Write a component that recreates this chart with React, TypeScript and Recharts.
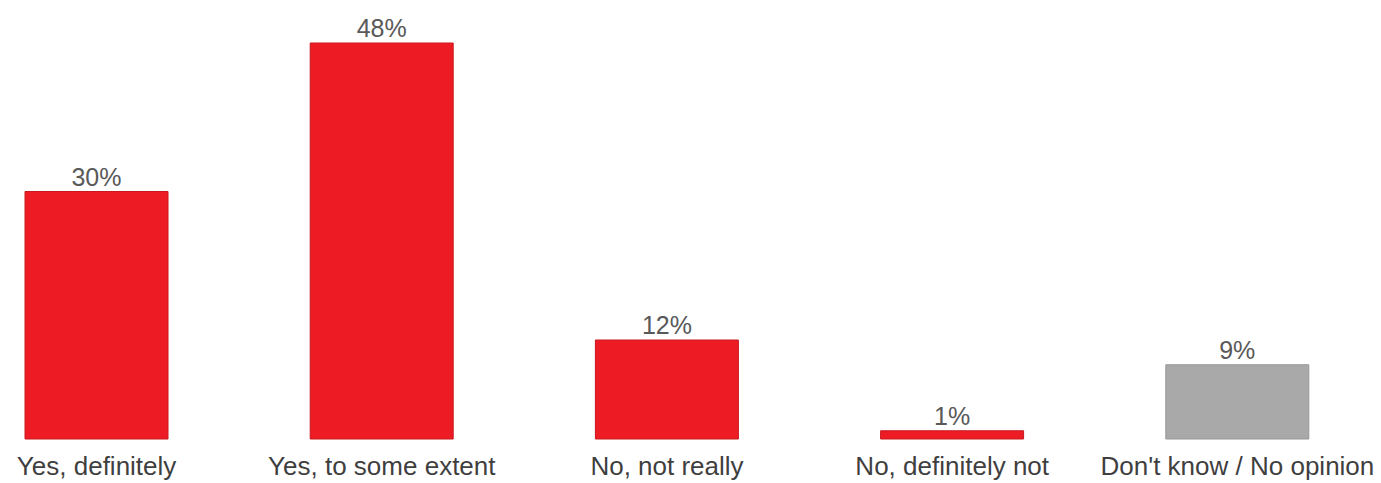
import { Bar, BarChart, Cell, LabelList, XAxis, YAxis } from "recharts";

const categories = [
  "Yes, definitely",
  "Yes, to some extent",
  "No, not really",
  "No, definitely not",
  "Don't know / No opinion",
];
const shares = [30, 48, 12, 1, 9];
const barColors = ["#ED1C24", "#ED1C24", "#ED1C24", "#ED1C24", "#A9A9A9"];
const borderColors = ["#C9181F", "#C9181F", "#C9181F", "#C9181F", "#979797"];

const data = categories.map((name, i) => ({ name, value: shares[i] }));

const font = "'Liberation Sans', Arial, sans-serif";

export default function App() {
  return (
    <div
      style={{
        position: "absolute",
        left: 0,
        top: 0,
        width: 1381,
        height: 483,
        overflow: "hidden",
        background: "#fff",
      }}
    >
      <div style={{ marginLeft: -46, width: 1426 }}>
        <BarChart
          width={1426}
          height={483}
          data={data}
          barSize={143}
          margin={{ top: 10, right: 0, bottom: 0, left: 0 }}
        >
          <YAxis hide domain={[0, 52]} />
          <XAxis
            dataKey="name"
            interval={0}
            height={44}
            axisLine={false}
            tickLine={false}
            tickMargin={12}
            tick={{ fontSize: 26, fill: "#3f3f3f", fontFamily: font }}
          />
          <Bar dataKey="value" isAnimationActive={false} strokeWidth={1}>
            {data.map((d, i) => (
              <Cell key={d.name} fill={barColors[i]} stroke={borderColors[i]} />
            ))}
            <LabelList
              dataKey="value"
              position="top"
              offset={6}
              formatter={(v: number) => `${v}%`}
              style={{ fontSize: 25, fill: "#595959", fontFamily: font }}
            />
          </Bar>
        </BarChart>
      </div>
    </div>
  );
}
